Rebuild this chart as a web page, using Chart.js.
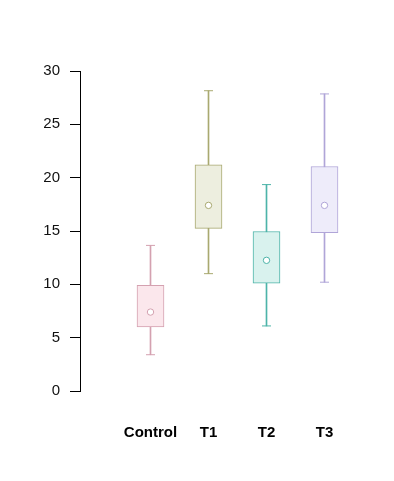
<!DOCTYPE html>
<html>
<head>
<meta charset="utf-8">
<script src="https://cdn.jsdelivr.net/npm/chart.js@4/dist/chart.umd.min.js"></script>
<style>
  html, body { margin: 0; padding: 0; background: #fff; }
  #wrap { width: 394px; height: 481px; }
</style>
</head>
<body>
<div id="wrap"><canvas id="boxChart" width="394" height="481"></canvas></div>
<script>
// groups and their five-number summaries
var categories = ['Control', 'T1', 'T2', 'T3'];
var whiskerLow = [3.4, 11.0, 6.1, 10.2];
var q1 = [6.0, 15.25, 10.1, 14.85];
var median = [7.4, 17.4, 12.25, 17.4];
var q3 = [9.9, 21.2, 14.95, 21.05];
var whiskerHigh = [13.65, 28.15, 19.35, 27.85];
var yTicks = [0, 5, 10, 15, 20, 25, 30];

var lineColors = ['#D4A1B0', '#A9A970', '#4DB4A9', '#B0A5D8'];
var fillColors = ['#FBE7EC', '#EDEEDF', '#D9F2EE', '#EEECFA'];

var pos = categories.map((c, i) => i + 1);

var whiskers = pos.map((x, i) => ({ x: x, y: [whiskerLow[i], whiskerHigh[i]] }));
var boxes = pos.map((x, i) => ({ x: x, y: [q1[i], q3[i]] }));
var capsHigh = pos.map((x, i) => ({ x: x, y: whiskerHigh[i] }));
var capsLow = pos.map((x, i) => ({ x: x, y: whiskerLow[i] }));
var medians = pos.map((x, i) => ({ x: x, y: median[i] }));

var ctx = document.querySelector('#boxChart');
var myChart = new Chart(ctx, {
    type: 'bar',
    data: {
        datasets: [
            {
                // whisker line, sits behind the box
                type: 'bar',
                data: whiskers,
                backgroundColor: lineColors,
                barThickness: 1,
                grouped: false,
                order: 4
            },
            {
                type: 'bar',
                data: boxes,
                backgroundColor: fillColors,
                borderColor: lineColors,
                borderWidth: 1,
                borderSkipped: false,
                barThickness: 27,
                grouped: false,
                order: 3
            },
            {
                type: 'line',
                data: capsHigh,
                showLine: false,
                pointStyle: 'line',
                pointRadius: 4.5,
                pointBorderWidth: 1,
                pointBorderColor: lineColors,
                order: 2
            },
            {
                type: 'line',
                data: capsLow,
                showLine: false,
                pointStyle: 'line',
                pointRadius: 4.5,
                pointBorderWidth: 1,
                pointBorderColor: lineColors,
                order: 2
            },
            {
                type: 'line',
                data: medians,
                showLine: false,
                pointStyle: 'circle',
                pointRadius: 3.2,
                pointBorderWidth: 1,
                pointBackgroundColor: '#ffffff',
                pointBorderColor: lineColors,
                order: 1
            }
        ]
    },
    options: {
        responsive: false,
        animation: false,
        events: [],
        layout: {
            padding: { top: 71, right: 30, bottom: 0, left: 0 }
        },
        plugins: {
            legend: { display: false },
            tooltip: { enabled: false }
        },
        scales: {
            x: {
                type: 'linear',
                offset: false,
                min: -0.21552,
                max: 4.68103,
                afterBuildTicks: function (s) {
                    s.ticks = pos.map(p => ({ value: p }));
                },
                afterFit: function (s) { s.height = 90; },
                grid: { display: false, drawTicks: false },
                border: { display: false },
                ticks: {
                    autoSkip: false,
                    maxRotation: 0,
                    padding: 33,
                    color: '#000',
                    font: { family: 'Liberation Sans', size: 15, weight: 'bold' },
                    callback: function (v) { return categories[v - 1] || ''; }
                }
            },
            y: {
                min: 0,
                max: 30,
                afterBuildTicks: function (s) {
                    s.ticks = yTicks.map(v => ({ value: v }));
                },
                afterFit: function (s) { s.width = 80; },
                grid: {
                    drawOnChartArea: false,
                    drawTicks: true,
                    tickLength: 10,
                    color: '#000',
                    lineWidth: 1
                },
                border: { display: true, color: '#000', width: 1 },
                ticks: {
                    padding: 10,
                    color: '#111',
                    font: { family: 'Liberation Sans', size: 15 }
                }
            }
        }
    }
});
</script>
</body>
</html>
